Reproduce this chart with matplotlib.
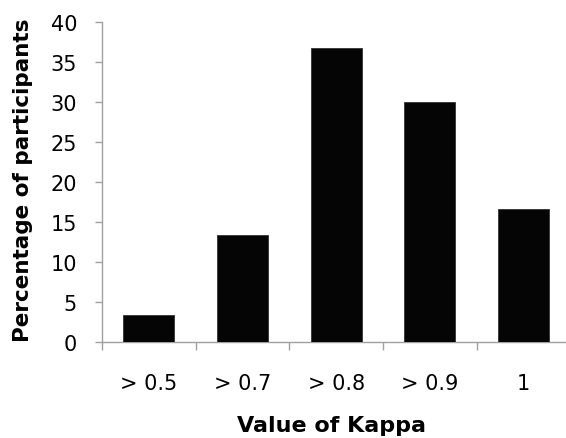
import matplotlib
matplotlib.use("Agg")
import matplotlib.pyplot as plt
import numpy as np

categories = ["> 0.5", "> 0.7", "> 0.8", "> 0.9", "1"]
values = [3.33, 13.33, 36.67, 30.0, 16.67]
yticks = [0, 5, 10, 15, 20, 25, 30, 35, 40]

plt.rcParams['font.family'] = ['DejaVu Sans']

fig = plt.figure(figsize=(5.66, 4.39), dpi=100)
ax = fig.add_axes([102/566, 1 - 343/439, 468.5/566, (343 - 22.7)/439])

x = np.arange(len(categories))
ax.bar(x, values, width=0.545, color='#050505', edgecolor='#333333', linewidth=0.6, zorder=3)

ax.set_xlim(-0.5, len(categories) - 0.5)
ax.set_ylim(0, 40)

spine_color = '#a0a0a0'
for s in ['top', 'right']:
    ax.spines[s].set_visible(False)
for s in ['left', 'bottom']:
    ax.spines[s].set_color(spine_color)
    ax.spines[s].set_linewidth(1.0)

ax.set_yticks(yticks)
ax.set_yticklabels([str(v) for v in yticks], fontsize=15)
ax.tick_params(axis='y', direction='out', length=5, width=1.0, color=spine_color, pad=13)

# major ticks at category boundaries, labels at centres
ax.set_xticks(np.arange(len(categories)) - 0.5)
ax.set_xticklabels([])
ax.tick_params(axis='x', which='major', direction='out', length=6, width=1.0, color=spine_color)
ax.set_xticks(x, minor=True)
ax.set_xticklabels(categories, minor=True, fontsize=15)
ax.tick_params(axis='x', which='minor', length=0, pad=22)

fig.text(23/566, 1 - 180/439, "Percentage of participants", rotation=90,
         ha='center', va='center', fontsize=15.5, fontweight='bold')
fig.text(332/566, 1 - 432/439, "Value of Kappa", ha='center', va='baseline',
         fontsize=16, fontweight='bold')

fig.savefig("out.png", dpi=100)
